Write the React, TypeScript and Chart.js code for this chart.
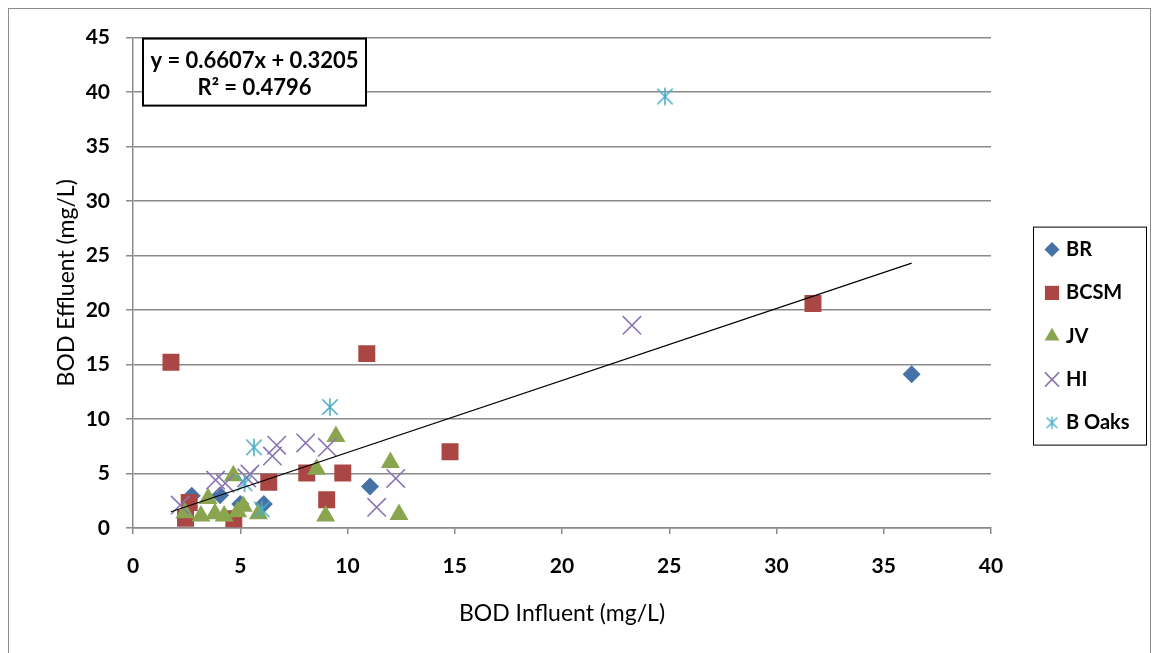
import React, { useEffect, useRef } from "react";
import { Chart, registerables } from "chart.js";
import { drawPoint } from "chart.js/helpers";

Chart.register(...registerables);

// ---------- data ----------
const seriesNames = ["BR", "BCSM", "JV", "HI", "B Oaks"];

const brX = [2.74, 4.06, 5.0, 6.1, 11.05, 36.3];
const brY = [2.95, 3.0, 2.2, 2.2, 3.8, 14.1];

const bcsmX = [1.77, 2.45, 2.62, 4.7, 6.33, 8.1, 9.03, 9.78, 10.9, 14.78, 31.7];
const bcsmY = [15.2, 0.9, 2.35, 0.85, 4.2, 5.05, 2.6, 5.05, 16.0, 7.0, 20.6];

const jvX = [2.42, 3.17, 3.5, 3.82, 4.25, 4.68, 4.88, 5.14, 5.85, 8.56, 8.98, 9.46, 12.0, 12.4];
const jvY = [1.4, 1.1, 2.7, 1.3, 1.1, 4.8, 1.5, 2.0, 1.3, 5.4, 1.1, 8.4, 6.0, 1.25];

const hiX = [2.2, 3.85, 4.3, 5.3, 5.45, 6.5, 6.7, 8.05, 9.06, 11.36, 12.25, 23.26];
const hiY = [2.1, 4.4, 4.1, 4.6, 4.95, 6.6, 7.6, 7.8, 7.4, 1.9, 4.55, 18.6];

const boX = [5.2, 5.64, 6.0, 9.18, 24.8];
const boY = [4.1, 7.4, 1.7, 11.1, 39.6];

const trendSlope = 0.6607;
const trendIntercept = 0.3205;
const rSquared = 0.4796;

const xMin = 0;
const xMax = 40;
const xStep = 5;
const yMin = 0;
const yMax = 45;
const yStep = 5;

const xTitle = "BOD Influent (mg/L)";
const yTitle = "BOD Effluent (mg/L)";

// ---------- styles ----------
const seriesColors = ["#4572A7", "#AA4643", "#89A54E", "#8B76B5", "#4BACC6"];
const gridColor = "#8a8a8a";
const FONT = "Lato";

function makeStar(size: number, color: string, lw: number): HTMLCanvasElement {
  const c = document.createElement("canvas");
  c.width = size;
  c.height = size;
  const g = c.getContext("2d")!;
  g.strokeStyle = color;
  g.lineWidth = lw;
  const m = lw / 2 + 0.5;
  const s = size;
  g.beginPath();
  g.moveTo(s / 2, m);
  g.lineTo(s / 2, s - m);
  g.moveTo(m + 1, m + 1);
  g.lineTo(s - m - 1, s - m - 1);
  g.moveTo(s - m - 1, m + 1);
  g.lineTo(m + 1, s - m - 1);
  g.stroke();
  return c;
}

const toPts = (xs: number[], ys: number[]) => xs.map((x, i) => ({ x, y: ys[i] }));

export default function App() {
  const canvasRef = useRef<HTMLCanvasElement | null>(null);

  useEffect(() => {
    let chart: Chart | null = null;
    let cancelled = false;

    const build = () => {
      if (cancelled || !canvasRef.current) return;
      const starBig = makeStar(20, seriesColors[4], 1.6);
      const starSmall = makeStar(15, seriesColors[4], 1.4);

      const pointStyles: any[] = ["rectRot", "rect", "triangle", "crossRot", starBig];
      const radii = [9, 12, 11, 13, 10];
      const borderWidths = [0, 0, 0, 1.6, 1.6];
      const legendStyles: any[] = ["rectRot", "rect", "triangle", "crossRot", starSmall];
      const legendRadii = [7.5, 10, 8.5, 10, 7];

      const allX = [...brX, ...bcsmX, ...jvX, ...hiX, ...boX];
      const tMin = Math.min(...allX);
      const tMax = Math.max(...allX);

      const seriesX = [brX, bcsmX, jvX, hiX, boX];
      const seriesY = [brY, bcsmY, jvY, hiY, boY];

      const datasets: any[] = seriesNames.map((name, i) => ({
        label: name,
        data: toPts(seriesX[i], seriesY[i]),
        pointStyle: pointStyles[i],
        pointRadius: radii[i],
        pointHoverRadius: radii[i],
        backgroundColor: seriesColors[i],
        borderColor: seriesColors[i],
        pointBorderWidth: borderWidths[i],
        borderWidth: borderWidths[i],
        order: 5 - i,
      }));

      datasets.push({
        label: "trend",
        data: [
          { x: tMin, y: trendSlope * tMin + trendIntercept },
          { x: tMax, y: trendSlope * tMax + trendIntercept },
        ],
        showLine: true,
        borderColor: "#000",
        borderWidth: 1.2,
        pointRadius: 0,
        order: 0,
      });

      const eqPlugin = {
        id: "eqBox",
        afterDatasetsDraw(c: any) {
          const { ctx, chartArea } = c;
          const x = chartArea.left + 10;
          const y = chartArea.top + 1;
          const w = 223;
          const h = 67;
          ctx.save();
          ctx.fillStyle = "#fff";
          ctx.fillRect(x, y, w, h);
          ctx.strokeStyle = "#000";
          ctx.lineWidth = 2;
          ctx.strokeRect(x, y, w, h);
          ctx.fillStyle = "#000";
          ctx.font = `bold 22px ${FONT}`;
          ctx.textAlign = "center";
          ctx.textBaseline = "middle";
          ctx.fillText(
            `y = ${trendSlope.toFixed(4)}x + ${trendIntercept.toFixed(4)}`,
            x + w / 2,
            y + 22
          );
          ctx.fillText(`R\u00B2 = ${rSquared.toFixed(4)}`, x + w / 2, y + 49);
          ctx.restore();
        },
      };

      const legendPlugin = {
        id: "boxLegend",
        afterDraw(c: any) {
          const { ctx, chartArea } = c;
          const bx = chartArea.right + 42;
          const by = chartArea.top + 189;
          const bw = 113;
          const bh = 218;
          ctx.save();
          ctx.strokeStyle = "#000";
          ctx.lineWidth = 1;
          ctx.strokeRect(bx + 0.5, by + 0.5, bw, bh);
          seriesNames.forEach((name, i) => {
            const cy = by + 23 + i * 43.3;
            const mx = bx + 19;
            ctx.fillStyle = seriesColors[i];
            ctx.strokeStyle = seriesColors[i];
            ctx.lineWidth = borderWidths[i] || 1;
            drawPoint(
              ctx,
              {
                pointStyle: legendStyles[i],
                radius: legendRadii[i],
                borderWidth: borderWidths[i],
                rotation: 0,
              } as any,
              mx,
              cy
            );
            ctx.fillStyle = "#000";
            ctx.font = `bold 20px ${FONT}`;
            ctx.textAlign = "left";
            ctx.textBaseline = "middle";
            ctx.fillText(name, bx + 33, cy);
          });
          ctx.restore();
        },
      };

      chart = new Chart(canvasRef.current, {
        type: "scatter",
        data: { datasets },
        options: {
          responsive: false,
          animation: false,
          events: [],
          layout: { padding: { left: 0, top: 26, right: 159, bottom: 79 } },
          plugins: {
            legend: { display: false },
            tooltip: { enabled: false },
          },
          scales: {
            x: {
              type: "linear",
              position: "bottom",
              min: xMin,
              max: xMax,
              ticks: {
                stepSize: xStep,
                padding: 20,
                color: "#000",
                font: { family: FONT, weight: "bold", size: 21 },
              },
              grid: {
                drawOnChartArea: false,
                drawTicks: true,
                tickLength: 6,
                color: gridColor,
                lineWidth: 1.5,
              },
              border: { display: true, color: gridColor, width: 1.5 },
              title: {
                display: true,
                text: xTitle,
                color: "#000",
                font: { family: FONT, size: 23 },
                padding: { top: 0, bottom: 1 },
              },
              afterFit: (s: any) => {
                s.height = 100;
              },
            },
            y: {
              type: "linear",
              min: yMin,
              max: yMax,
              ticks: {
                stepSize: yStep,
                padding: 16,
                color: "#000",
                font: { family: FONT, weight: "bold", size: 21 },
              },
              grid: {
                drawTicks: true,
                tickLength: 7,
                color: gridColor,
                lineWidth: 1.5,
              },
              border: { display: true, color: gridColor, width: 1.5 },
              title: {
                display: true,
                text: yTitle,
                color: "#000",
                font: { family: FONT, size: 23 },
                padding: { top: 44, bottom: 0 },
              },
              afterFit: (s: any) => {
                s.width = 124;
              },
            },
          },
        } as any,
        plugins: [eqPlugin, legendPlugin],
      });
    };

    const fontsReady = (document as any).fonts
      ? Promise.all([
          (document as any).fonts.load(`bold 20px ${FONT}`),
          (document as any).fonts.load(`20px ${FONT}`),
        ]).catch(() => null)
      : Promise.resolve(null);
    fontsReady.then(build);

    return () => {
      cancelled = true;
      if (chart) chart.destroy();
    };
  }, []);

  return (
    <div
      style={{
        position: "fixed",
        left: 8,
        top: 8,
        width: 1143,
        height: 700,
        border: "1px solid #8c8c8c",
        boxSizing: "border-box",
        background: "#fff",
      }}
    >
      <canvas
        ref={canvasRef}
        width={1141}
        height={698}
        style={{ display: "block", width: 1141, height: 698 }}
      />
    </div>
  );
}
